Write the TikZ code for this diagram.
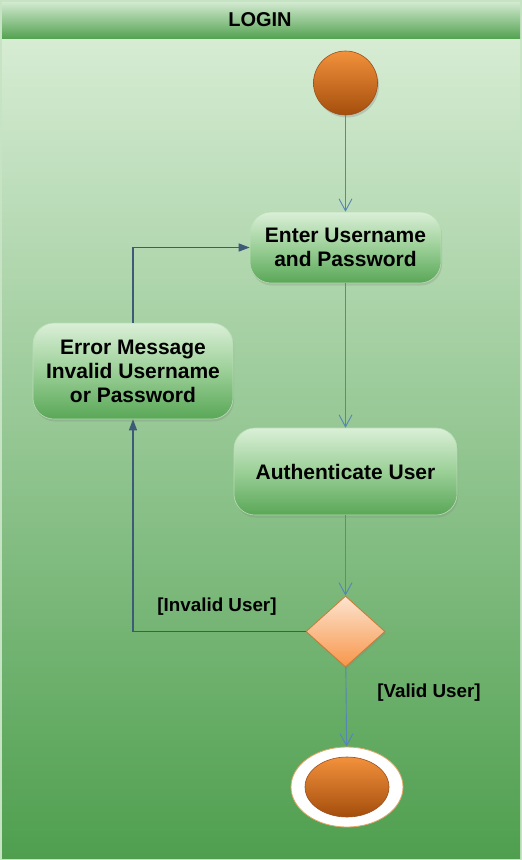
\documentclass[tikz,border=0pt]{standalone}
\usepackage{fontspec}
\setmainfont{Liberation Sans}
\usetikzlibrary{arrows.meta,shapes.geometric,shadows}
\definecolor{bgedge}{HTML}{C6E3C3}
\definecolor{hdtop}{HTML}{D2EACF}
\definecolor{hdbot}{HTML}{55A353}
\definecolor{bdtop}{HTML}{D6ECD3}
\definecolor{bdbot}{HTML}{4F9F4F}
\definecolor{actop}{HTML}{DAEFD7}
\definecolor{acmid}{HTML}{9BCF97}
\definecolor{acbot}{HTML}{59A757}
\definecolor{acedge}{HTML}{B9DDB5}
\definecolor{ortop}{HTML}{F2913C}
\definecolor{ormid}{HTML}{E26F12}
\definecolor{orbot}{HTML}{A44E0C}
\definecolor{oredge}{HTML}{9A4F1E}
\definecolor{dmtop}{HTML}{FDE4D0}
\definecolor{dmbot}{HTML}{F7964A}
\definecolor{dmedge}{HTML}{C97A36}
\definecolor{flowc}{HTML}{5586B6}
\definecolor{backc}{HTML}{3D5B76}
\definecolor{endedge}{HTML}{E2A566}
\tikzset{
  actbox/.style={rectangle, rounded corners=21pt, inner sep=0pt, align=center,
    top color=actop, bottom color=acbot, middle color=acmid, draw=acedge, line width=0.6pt,
    font=\bfseries\fontsize{21}{24}\selectfont,
    drop shadow={opacity=0.25, shadow xshift=1pt, shadow yshift=-2.5pt}},
  startdot/.style={circle, inner sep=0pt, minimum size=64pt,
    top color=ortop, middle color=ormid, bottom color=orbot, draw=oredge, line width=0.6pt,
    drop shadow={opacity=0.3, shadow xshift=1.5pt, shadow yshift=-2.5pt}},
  decision/.style={diamond, inner sep=0pt, minimum width=79pt, minimum height=71pt,
    top color=dmtop, bottom color=dmbot, draw=dmedge, line width=0.8pt,
    drop shadow={opacity=0.25, shadow xshift=1pt, shadow yshift=-2pt}},
  endouter/.style={ellipse, inner sep=0pt, minimum width=112pt, minimum height=80pt,
    fill=white, draw=endedge, line width=0.8pt},
  endinner/.style={ellipse, inner sep=0pt, minimum width=84pt, minimum height=60pt,
    top color=ortop, middle color=ormid, bottom color=orbot, draw=oredge, line width=0.6pt},
  flow/.style={draw=flowc, line width=0.9pt, -{Straight Barb[length=12pt,width=13pt,line width=0.9pt]}},
  back/.style={draw=backc, line width=1.3pt, -{Triangle[length=11pt,width=8pt]}},
  guard/.style={font=\bfseries\fontsize{18.8}{22}\selectfont, inner sep=0pt},
  title/.style={font=\bfseries\fontsize{20}{24}\selectfont, inner sep=0pt}
}
\begin{document}
\begin{tikzpicture}[x=1pt,y=-1pt]
\useasboundingbox (0,0) rectangle (522,860);
% background
\fill[bgedge] (0,0) rectangle (522,860);
\fill[top color=hdtop, bottom color=hdbot] (2,2) rectangle (520,38);
\fill[top color=bdtop, bottom color=bdbot] (2,39) rectangle (520,858);
\node[title] (ttl) at (260,20) {LOGIN};
% nodes
\node[startdot] (start) at (345.5,83) {};
\node[actbox, minimum width=191pt, minimum height=71pt] (enter) at (345.5,247.5) {Enter Username\\and Password};
\node[actbox, minimum width=200pt, minimum height=96pt] (err) at (133,371) {Error Message\\Invalid Username\\or Password};
\node[actbox, minimum width=223pt, minimum height=87pt] (auth) at (345.5,471.5) {Authenticate User};
\node[decision] (dec) at (345.5,631.5) {};
\node[endouter] (endo) at (347,787) {};
\node[endinner] (endi) at (347,787) {};
% labels
\node[guard] (lblinv) at (217,607) {[Invalid User]};
\node[guard] (lblval) at (429,693) {[Valid User]};
% connectors
\draw[flow] (start) -- (enter);
\draw[flow] (enter) -- (auth);
\draw[flow] (auth) -- (dec);
\draw[flow] (dec) -- (endo);
\draw[back] (dec.west) -| (err.south);
\draw[back] (err.north) |- (enter.west);
\end{tikzpicture}
\end{document}
